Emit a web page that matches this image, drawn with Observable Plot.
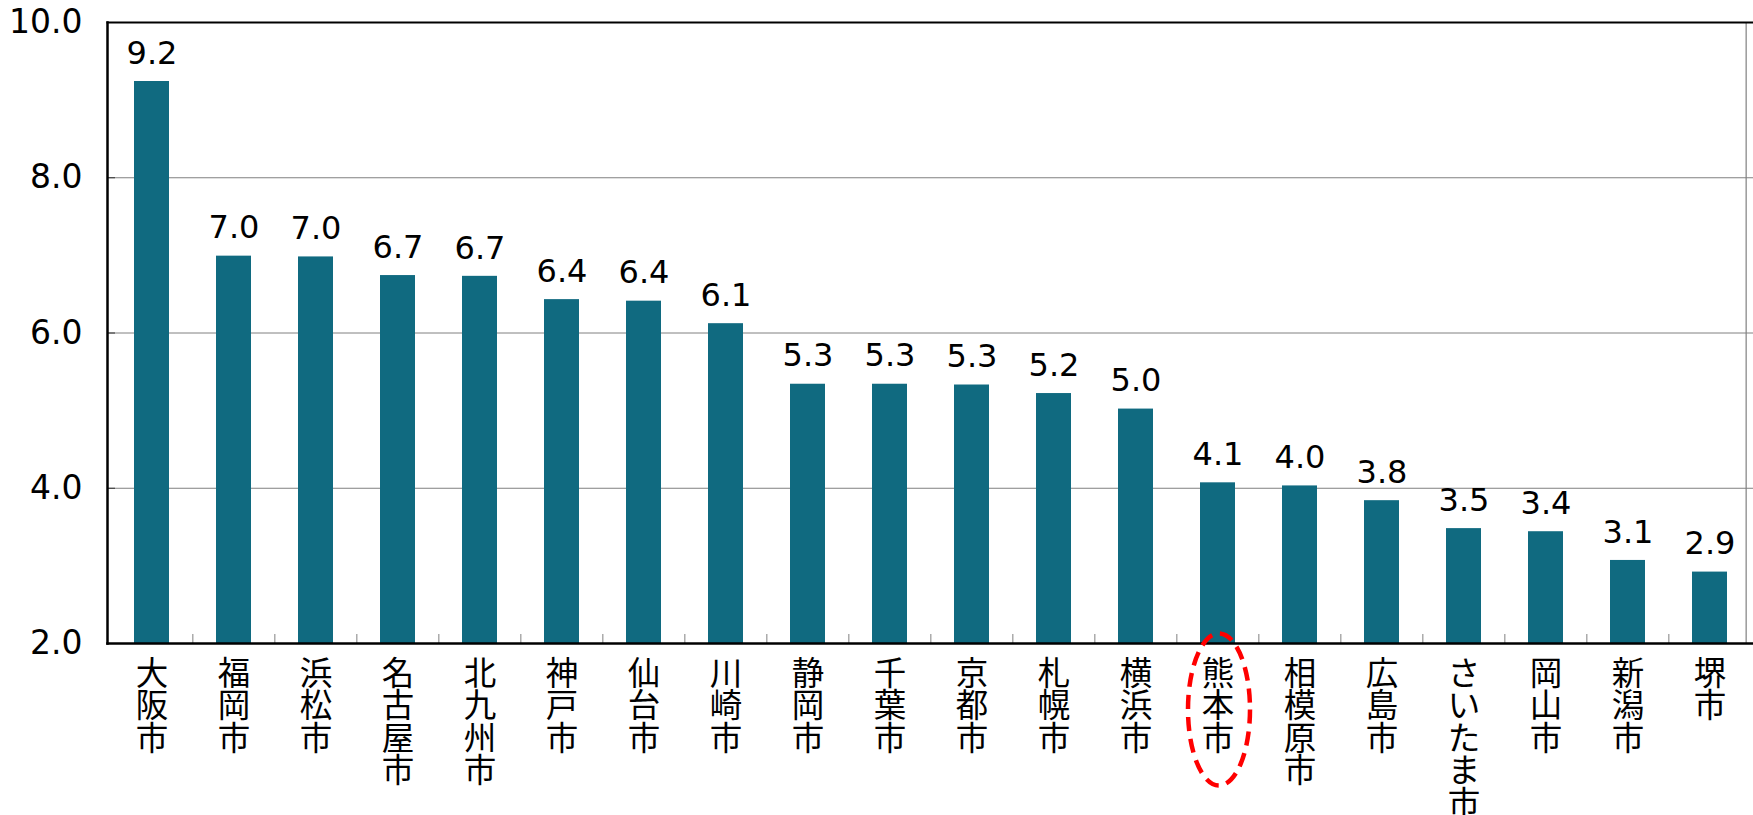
<!DOCTYPE html>
<html>
<head>
<meta charset="utf-8">
<script src="https://cdn.jsdelivr.net/npm/d3@7"></script>
<script src="https://cdn.jsdelivr.net/npm/@observablehq/plot@0.6"></script>
<style>
  html, body { margin: 0; padding: 0; background: #fff; }
</style>
</head>
<body>
<div id="chart"></div>
<script>
const cities = ["大阪市","福岡市","浜松市","名古屋市","北九州市","神戸市","仙台市","川崎市","静岡市","千葉市","京都市","札幌市","横浜市","熊本市","相模原市","広島市","さいたま市","岡山市","新潟市","堺市"];
const values = [9.24, 6.99, 6.98, 6.74, 6.73, 6.43, 6.41, 6.12, 5.34, 5.34, 5.33, 5.22, 5.02, 4.07, 4.03, 3.84, 3.48, 3.44, 3.07, 2.92];
const yTicks = [2, 4, 6, 8, 10];
const gridValues = [4, 6, 8];
const highlighted = ["熊本市"];

const data = cities.map((c, i) => ({city: c, value: values[i]}));

const W = 1753, H = 815;
const mL = 107, mR = 0, mT = 22, mB = 172;
const frameH = H - mT - mB;
const frameW = W - mL - mR;
const step = frameW / cities.length;

const numFont = "'DejaVu Sans', sans-serif";

// dashed ellipse symbol (pixel units)
const ellipse = {
  draw(ctx) {
    const rx = 31, ry = 76, k = 0.5523;
    ctx.moveTo(rx, 0);
    ctx.bezierCurveTo(rx, ry * k, rx * k, ry, 0, ry);
    ctx.bezierCurveTo(-rx * k, ry, -rx, ry * k, -rx, 0);
    ctx.bezierCurveTo(-rx, -ry * k, -rx * k, -ry, 0, -ry);
    ctx.bezierCurveTo(rx * k, -ry, rx, -ry * k, rx, 0);
    ctx.closePath();
  }
};

const chart = Plot.plot({
  width: W,
  height: H,
  marginLeft: mL,
  marginRight: mR,
  marginTop: mT,
  marginBottom: mB,
  style: {fontFamily: "'Noto Sans CJK JP', 'Noto Sans', sans-serif", color: "black", background: "white", overflow: "visible"},
  x: {domain: cities, paddingInner: 0.574, paddingOuter: 0.287, axis: null},
  y: {domain: [2, 10], axis: null, label: null},
  marks: [
    Plot.ruleY(gridValues, {stroke: "#808080", strokeWidth: 1}),
    Plot.ruleY(yTicks, {insetRight: frameW - 8, stroke: "#333333", strokeWidth: 1}),
    Plot.ruleX(cities.slice(1), {x: d => d, dx: -step / 2, insetTop: frameH - 9, stroke: "#808080", strokeWidth: 1}),
    Plot.barY(data, {x: "city", y1: 2, y2: "value", fill: "#106a80"}),
    Plot.axisY({ticks: yTicks, tickFormat: d => d.toFixed(1), tickSize: 0, tickPadding: 25, fontSize: 33, fontFamily: numFont, label: null}),
    Plot.text(data, {x: "city", y: "value", text: d => d.value.toFixed(1), dy: -28, fontSize: 32, fontFamily: numFont, fill: "black"}),
    Plot.text(cities, {x: d => d, text: d => d.split("").join("\n"), frameAnchor: "bottom", lineAnchor: "top", dy: 18, lineHeight: 1, fontSize: 32.5, fill: "black"}),
    Plot.ruleX(cities.slice(-1), {x: d => d, dx: step / 2 - 5, stroke: "#808080", strokeWidth: 1.2}),
    Plot.frame({anchor: "top", stroke: "black", strokeWidth: 2}),
    Plot.frame({anchor: "left", stroke: "black", strokeWidth: 2.5}),
    Plot.frame({anchor: "bottom", stroke: "black", strokeWidth: 2.5}),
    Plot.dot(highlighted, {x: d => d, frameAnchor: "bottom", dy: 66, dx: 1, symbol: ellipse, fill: "none", stroke: "#ff0000", strokeWidth: 4.5, strokeDasharray: "14,8"})
  ]
});
document.getElementById("chart").appendChild(chart);
</script>
</body>
</html>
